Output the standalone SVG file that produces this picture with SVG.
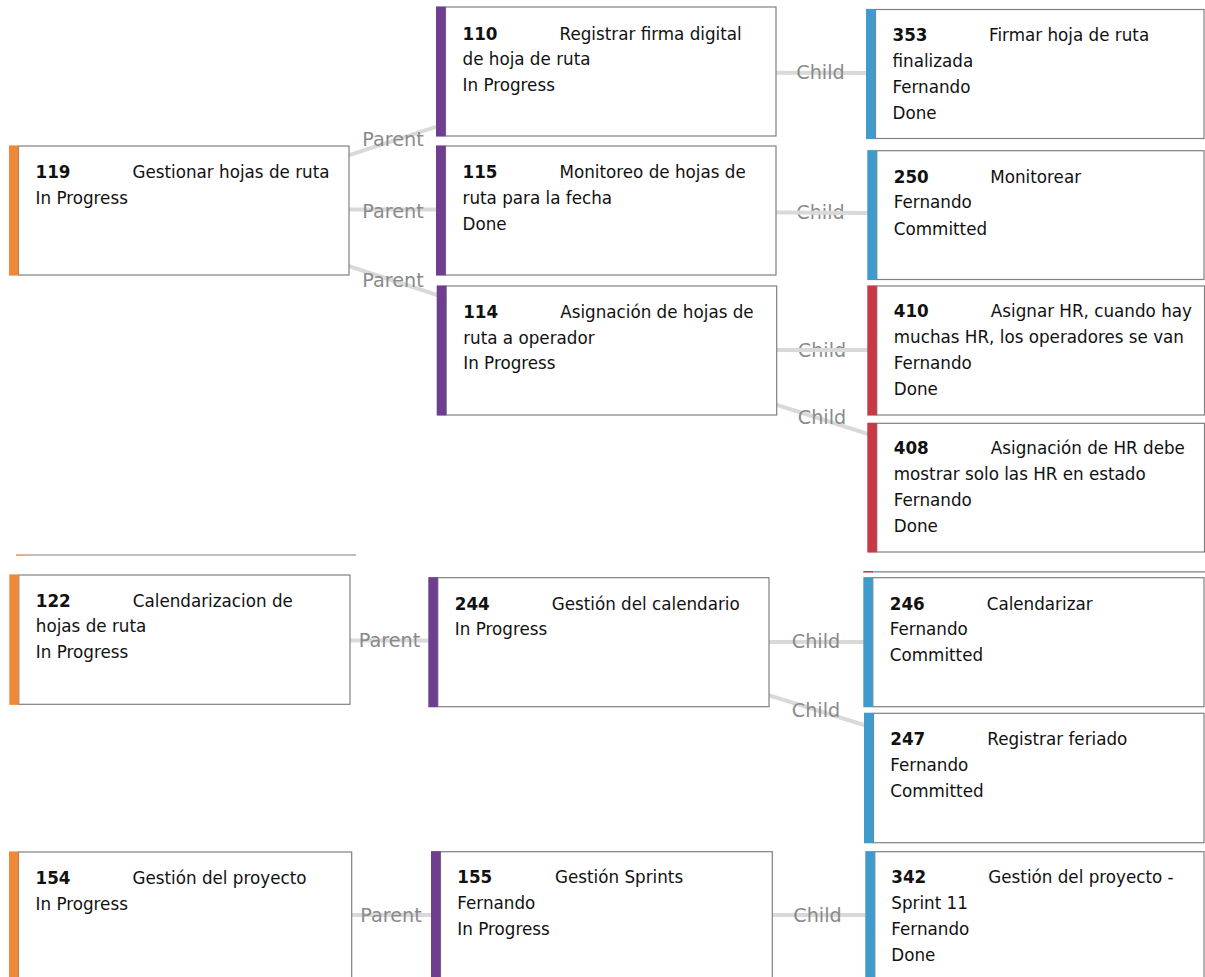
<svg xmlns="http://www.w3.org/2000/svg" width="1205" height="977" viewBox="0 0 1205 977">
<style>
.box{fill:#fff;stroke:#808080;stroke-width:1.2}
.epic{fill:#F0883A}
.feat{fill:#6E3F8F}
.story{fill:#3F9BCB}
.bug{fill:#C63945}
.t{font-family:"DejaVu Sans",Verdana,sans-serif;font-size:16.75px;fill:#111}
.id{font-weight:bold}
.lnk{stroke:#d9d9d9;stroke-width:4;fill:none}
.lbl{font-family:"DejaVu Sans",Verdana,sans-serif;font-size:19.2px;fill:#8a8a8a;text-anchor:middle}
.edge{stroke:#808080;stroke-width:1.2}
</style>
<rect width="1205" height="977" fill="#fff"/>
<g id="connectors">
<text class="lbl" x="820.5" y="219">Child</text>
<text class="lbl" x="822" y="357">Child</text>
<line class="lnk" x1="179" y1="210.5" x2="606" y2="71.5"/>
<line class="lnk" x1="179" y1="209.5" x2="606" y2="209.5"/>
<line class="lnk" x1="179" y1="210.5" x2="606.7" y2="350.5"/>
<line class="lnk" x1="606" y1="72.5" x2="1035" y2="73.3"/>
<line class="lnk" x1="606" y1="210.8" x2="1035.5" y2="214.5"/>
<line class="lnk" x1="606.7" y1="350" x2="1035.8" y2="350"/>
<line class="lnk" x1="606.7" y1="350.5" x2="1035.8" y2="487.6"/>
<line class="lnk" x1="179.6" y1="640" x2="598.6" y2="641"/>
<line class="lnk" x1="598.6" y1="642" x2="1033.6" y2="642"/>
<line class="lnk" x1="598.6" y1="642.2" x2="1034" y2="778"/>
<line class="lnk" x1="180" y1="915" x2="601.6" y2="915"/>
<line class="lnk" x1="601.6" y1="915" x2="1034.6" y2="915"/>
<text class="lbl" x="393" y="146">Parent</text>
<text class="lbl" x="393" y="218">Parent</text>
<text class="lbl" x="393" y="286.5">Parent</text>
<text class="lbl" x="820.5" y="79">Child</text>
<text class="lbl" x="822" y="424">Child</text>
<text class="lbl" x="389.5" y="646.5">Parent</text>
<text class="lbl" x="816" y="648">Child</text>
<text class="lbl" x="816" y="716.5">Child</text>
<text class="lbl" x="391" y="921.5">Parent</text>
<text class="lbl" x="817.5" y="921.5">Child</text>
</g>
<g id="partial-edges">
<rect class="epic" x="16" y="554.4" width="9" height="1.4"/>
<line class="edge" x1="25" y1="555" x2="356" y2="555"/>
<rect class="bug" x="863.3" y="571" width="10" height="1.6"/>
<line class="edge" x1="873.3" y1="571.8" x2="1205" y2="571.8"/>
</g>
<g id="n119" transform="translate(9,146)">
<rect class="box" x="9.5" y="0" width="330.5" height="129"/>
<rect class="epic" x="0" y="-0.6" width="9.5" height="130.2"/>
<text class="t"><tspan class="id" x="26.5" y="31.7">119</tspan><tspan x="123.5" y="31.7">Gestionar hojas de ruta</tspan><tspan x="26.5" y="57.6">In Progress</tspan></text>
</g>
<g id="n110" transform="translate(436,7)">
<rect class="box" x="9.5" y="0" width="330.5" height="129"/>
<rect class="feat" x="0" y="-0.6" width="9.5" height="130.2"/>
<text class="t"><tspan class="id" x="26.5" y="32.5">110</tspan><tspan x="123.5" y="32.5">Registrar firma digital</tspan><tspan x="26.5" y="58.2">de hoja de ruta</tspan><tspan x="26.5" y="83.9">In Progress</tspan></text>
</g>
<g id="n115" transform="translate(436,146)">
<rect class="box" x="9.5" y="0" width="330.5" height="129"/>
<rect class="feat" x="0" y="-0.6" width="9.5" height="130.2"/>
<text class="t"><tspan class="id" x="26.5" y="32">115</tspan><tspan x="123.5" y="32">Monitoreo de hojas de</tspan><tspan x="26.5" y="57.8">ruta para la fecha</tspan><tspan x="26.5" y="83.6">Done</tspan></text>
</g>
<g id="n114" transform="translate(436.7,286)">
<rect class="box" x="9.5" y="0" width="330.5" height="129"/>
<rect class="feat" x="0" y="-0.6" width="9.5" height="130.2"/>
<text class="t"><tspan class="id" x="26.5" y="32.3">114</tspan><tspan x="123.5" y="32.3">Asignación de hojas de</tspan><tspan x="26.5" y="57.8">ruta a operador</tspan><tspan x="26.5" y="83.4">In Progress</tspan></text>
</g>
<g id="n353" transform="translate(866,9.5)">
<rect class="box" x="9.5" y="0" width="328.5" height="129"/>
<rect class="story" x="0" y="-0.6" width="9.5" height="130.2"/>
<text class="t"><tspan class="id" x="26.5" y="31.5">353</tspan><tspan x="123" y="31.5">Firmar hoja de ruta</tspan><tspan x="26.5" y="57.3">finalizada</tspan><tspan x="26.5" y="83.2">Fernando</tspan><tspan x="26.5" y="109.2">Done</tspan></text>
</g>
<g id="n250" transform="translate(867.3,150.7)">
<rect class="box" x="9.5" y="0" width="327.2" height="128.8"/>
<rect class="story" x="0" y="-0.6" width="9.5" height="130"/>
<text class="t"><tspan class="id" x="26.5" y="32">250</tspan><tspan x="123" y="32">Monitorear</tspan><tspan x="26.5" y="57.8">Fernando</tspan><tspan x="26.5" y="84">Committed</tspan></text>
</g>
<g id="n410" transform="translate(867.3,286)">
<rect class="box" x="9.5" y="0" width="327.7" height="129"/>
<rect class="bug" x="0" y="-0.6" width="9.5" height="130.2"/>
<text class="t"><tspan class="id" x="26.5" y="31">410</tspan><tspan x="123.5" y="31">Asignar HR, cuando hay</tspan><tspan x="26.5" y="57.2">muchas HR, los operadores se van</tspan><tspan x="26.5" y="83.2">Fernando</tspan><tspan x="26.5" y="109">Done</tspan></text>
</g>
<g id="n408" transform="translate(867.3,423.3)">
<rect class="box" x="9.5" y="0" width="327.7" height="128.7"/>
<rect class="bug" x="0" y="-0.6" width="9.5" height="129.9"/>
<text class="t"><tspan class="id" x="26.5" y="30.8">408</tspan><tspan x="123.5" y="30.8">Asignación de HR debe</tspan><tspan x="26.5" y="56.8">mostrar solo las HR en estado</tspan><tspan x="26.5" y="82.8">Fernando</tspan><tspan x="26.5" y="109">Done</tspan></text>
</g>
<g id="n122" transform="translate(9.3,575)">
<rect class="box" x="9.5" y="0" width="331.2" height="129.3"/>
<rect class="epic" x="0" y="-0.6" width="9.5" height="130.5"/>
<text class="t"><tspan class="id" x="26.5" y="31.7">122</tspan><tspan x="123.5" y="31.7">Calendarizacion de</tspan><tspan x="26.5" y="57.2">hojas de ruta</tspan><tspan x="26.5" y="82.7">In Progress</tspan></text>
</g>
<g id="n244" transform="translate(428.3,577.7)">
<rect class="box" x="9.5" y="0" width="331.2" height="129"/>
<rect class="feat" x="0" y="-0.6" width="9.5" height="130.2"/>
<text class="t"><tspan class="id" x="26.5" y="32.3">244</tspan><tspan x="123.4" y="32.3">Gestión del calendario</tspan><tspan x="26.5" y="57.5">In Progress</tspan></text>
</g>
<g id="n246" transform="translate(863.3,577.7)">
<rect class="box" x="9.5" y="0" width="331.2" height="129"/>
<rect class="story" x="0" y="-0.6" width="9.5" height="130.2"/>
<text class="t"><tspan class="id" x="26.5" y="32">246</tspan><tspan x="123.4" y="32">Calendarizar</tspan><tspan x="26.5" y="57.8">Fernando</tspan><tspan x="26.5" y="83.6">Committed</tspan></text>
</g>
<g id="n247" transform="translate(864,713.3)">
<rect class="box" x="9.5" y="0" width="330.5" height="129.4"/>
<rect class="story" x="0" y="-0.6" width="9.5" height="130.6"/>
<text class="t"><tspan class="id" x="26.3" y="31.7">247</tspan><tspan x="123.3" y="31.7">Registrar feriado</tspan><tspan x="26.3" y="57.7">Fernando</tspan><tspan x="26.3" y="83.4">Committed</tspan></text>
</g>
<g id="n154" transform="translate(9,852)">
<rect class="box" x="9.5" y="0" width="333.2" height="129"/>
<rect class="epic" x="0" y="-0.6" width="9.5" height="130.2"/>
<text class="t"><tspan class="id" x="26.5" y="31.7">154</tspan><tspan x="123.5" y="31.7">Gestión del proyecto</tspan><tspan x="26.5" y="57.5">In Progress</tspan></text>
</g>
<g id="n155" transform="translate(431,851.7)">
<rect class="box" x="9.5" y="0" width="331.8" height="129"/>
<rect class="feat" x="0" y="-0.6" width="9.5" height="130.2"/>
<text class="t"><tspan class="id" x="26.3" y="31.6">155</tspan><tspan x="124" y="31.6">Gestión Sprints</tspan><tspan x="26.3" y="57.8">Fernando</tspan><tspan x="26.3" y="83.3">In Progress</tspan></text>
</g>
<g id="n342" transform="translate(865.3,851.7)">
<rect class="box" x="9.5" y="0" width="329.2" height="129"/>
<rect class="story" x="0" y="-0.6" width="9.5" height="130.2"/>
<text class="t"><tspan class="id" x="26" y="31.6">342</tspan><tspan x="123" y="31.6">Gestión del proyecto -</tspan><tspan x="26" y="57.6">Sprint 11</tspan><tspan x="26" y="83.3">Fernando</tspan><tspan x="26" y="109.3">Done</tspan></text>
</g>
</svg>
